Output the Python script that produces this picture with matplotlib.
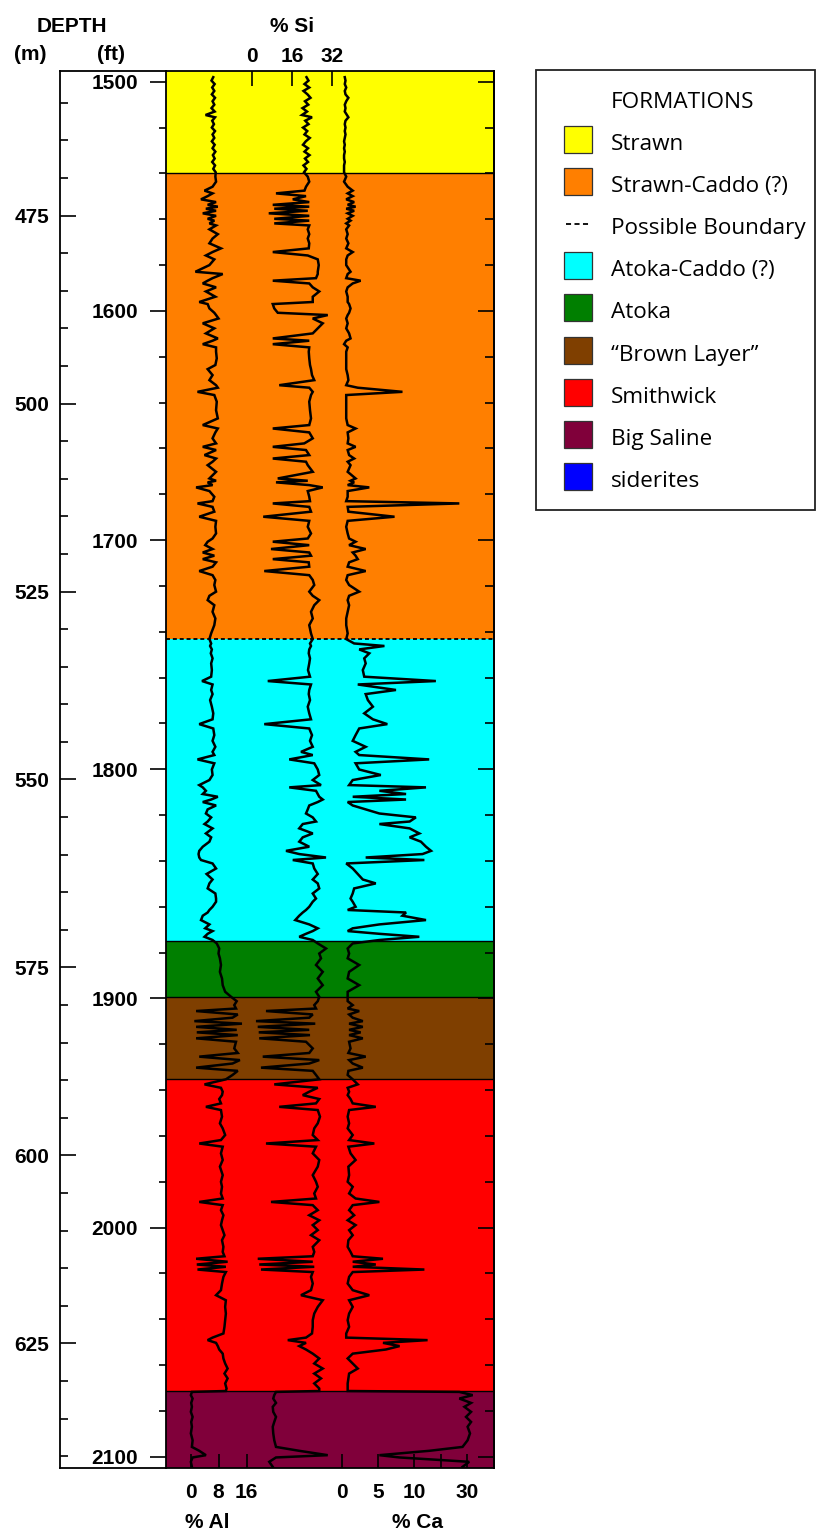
import numpy as np
import matplotlib
matplotlib.use("Agg")
import matplotlib.pyplot as plt
from matplotlib.patches import Rectangle
from matplotlib.ticker import MultipleLocator

plt.rcParams['font.family'] = ['Liberation Sans', 'DejaVu Sans']

# ---------------------------------------------------------------- data
# core-scan geochemistry: depth (ft) and element concentrations (%)
depth_ft = [
    1498.0, 1499.5, 1501.0, 1502.5, 1504.0, 1505.5, 1507.0, 1508.5, 1510.0, 1511.5,
    1513.0, 1514.5, 1515.5, 1517.0, 1518.5, 1520.0, 1521.5, 1523.0, 1524.5, 1526.0,
    1527.5, 1529.0, 1530.5, 1532.0, 1533.5, 1535.0, 1536.5, 1538.0, 1539.5,
    1541.4, 1543.6, 1545.8, 1547.5, 1548.7, 1549.9, 1551.3, 1552.5, 1553.7, 1554.5,
    1555.4, 1556.3, 1557.4, 1558.5, 1559.8, 1560.6, 1561.8, 1562.7, 1564.4, 1566.5,
    1568.4, 1570.5, 1572.7, 1574.3, 1575.8, 1577.5, 1580.0, 1582.9, 1583.9, 1585.7,
    1586.8, 1588.0, 1589.7, 1591.5, 1593.8, 1596.1, 1597.0, 1598.9, 1600.8, 1601.8,
    1603.3, 1605.4, 1607.6, 1609.8, 1612.0, 1613.0, 1614.5, 1615.9,
    1617.8, 1620.7, 1623.6, 1625.4, 1628.0, 1630.2, 1632.4, 1633.5, 1635.3, 1636.7,
    1639.6, 1643.3, 1646.9, 1649.8, 1651.3, 1653.0, 1655.6, 1657.8, 1659.3, 1660.7,
    1662.9, 1664.4, 1665.8, 1667.3, 1670.2, 1673.1, 1674.1, 1674.8, 1676.0, 1677.0,
    1678.6, 1681.1, 1683.0, 1684.0, 1685.5, 1687.6, 1689.8, 1691.6, 1694.2, 1697.1,
    1699.3, 1700.7, 1702.2, 1703.9, 1705.4, 1706.8, 1708.3, 1709.7, 1711.6, 1713.5,
    1715.3, 1717.4, 1719.6, 1722.5, 1724.3, 1726.2, 1728.4, 1731.3, 1734.2, 1737.1,
    1740.7, 1743.2, 1745.1, 1746.2, 1747.7, 1749.4, 1751.6, 1753.8, 1756.7, 1759.6,
    1761.5, 1763.0, 1765.4, 1767.2, 1769.8, 1772.7, 1775.6, 1778.2, 1780.3, 1782.2,
    1785.1, 1787.6, 1790.2, 1792.4, 1793.8, 1795.7, 1797.4, 1800.1, 1802.5, 1804.7,
    1806.9, 1807.9, 1809.4, 1810.8, 1812.0, 1813.2, 1814.3, 1815.8, 1817.5, 1819.3,
    1821.0, 1822.8, 1823.9, 1825.8, 1828.0, 1829.7, 1831.6, 1833.8, 1835.6, 1837.0,
    1838.5, 1839.6, 1841.1, 1843.3, 1845.7, 1848.1, 1849.8, 1852.0, 1854.2, 1856.4,
    1857.8, 1860.0, 1861.4, 1862.5, 1863.9, 1865.8, 1867.7, 1869.4, 1870.6, 1871.8,
    1873.1, 1874.5, 1876.0, 1878.2, 1880.4, 1882.5, 1885.4, 1888.4, 1891.3, 1894.2,
    1897.1, 1899.3, 1901.2, 1902.9, 1904.4, 1905.5, 1907.0, 1908.4, 1909.9, 1911.0,
    1912.4, 1913.7, 1914.8, 1916.0, 1917.4, 1918.9, 1921.8, 1923.8, 1925.4, 1926.9,
    1928.4, 1930.2, 1931.6, 1933.4, 1935.3, 1937.5, 1939.0, 1940.7, 1942.2, 1943.9,
    1945.8, 1947.3, 1948.7, 1951.6, 1954.5, 1956.7, 1959.6, 1961.8, 1963.3, 1964.7,
    1967.6, 1970.5, 1973.4, 1977.1, 1980.0,
    1982.2, 1985.1, 1987.3, 1988.8, 1990.2, 1992.4, 1994.6, 1996.8, 1998.9, 2001.1,
    2003.3, 2005.5, 2008.4, 2010.6, 2012.5, 2013.6, 2014.9, 2016.1, 2017.1, 2018.3,
    2019.4, 2021.5, 2024.4, 2027.3, 2029.5, 2031.7, 2034.6, 2037.5, 2040.4, 2043.3,
    2046.2, 2048.0, 2049.1, 2050.3, 2051.7, 2053.2, 2055.0, 2057.1, 2059.3, 2061.5,
    2063.7, 2065.8, 2068.0, 2070.2, 2071.3,
    2071.7, 2073.1, 2074.6, 2076.5, 2078.2, 2080.4, 2082.6, 2084.8, 2086.9, 2089.8,
    2092.8, 2095.7, 2097.4, 2099.3, 2100.3, 2102.2, 2104.4,
]

al_pct = [
    6.5, 6.0, 6.9, 6.2, 6.8, 6.1, 7.0, 6.3, 6.8, 6.0,
    6.9, 4.3, 7.0, 6.2, 6.7, 6.1, 7.0, 6.3, 6.8, 6.1,
    6.9, 6.3, 7.1, 6.4, 6.9, 6.2, 7.0, 6.5, 7.2,
    7.1, 7.3, 6.3, 4.0, 6.3, 4.9, 3.0, 7.3, 4.9, 7.8,
    4.4, 7.3, 3.5, 7.3, 4.9, 6.8, 5.4, 7.3, 5.4, 7.8,
    6.3, 5.4, 8.7, 6.3, 4.4, 6.8, 5.4, 1.4, 9.2, 6.3,
    4.9, 3.5, 7.3, 4.4, 7.1, 2.5, 4.9, 5.4, 6.8, 7.3,
    8.0, 3.5, 6.8, 4.4, 7.8, 6.3, 3.5, 7.3,
    7.3, 7.5, 7.1, 4.9, 6.3, 5.4, 7.3, 7.8, 2.0, 6.8,
    7.5, 7.3, 7.8, 3.5, 7.8, 7.1, 6.3, 7.3, 3.5, 7.3,
    4.0, 7.3, 6.3, 4.9, 7.3, 5.4, 7.3, 4.9, 6.3, 1.6,
    5.4, 6.8, 6.3, 2.0, 6.3, 6.8, 2.5, 7.3, 7.1, 7.3,
    6.3, 4.9, 4.2, 6.3, 3.5, 6.8, 3.5, 7.3, 6.3, 2.5,
    6.3, 7.1, 6.8, 7.3, 5.4, 4.9, 6.8, 6.3, 7.1, 6.8,
    5.9, 5.4, 5.9, 5.6, 6.1, 5.8, 6.3, 5.9, 6.1, 5.9,
    3.3, 6.3, 5.9, 6.3, 5.6, 6.1, 6.5, 6.3, 2.5, 6.5,
    6.8, 6.3, 7.1, 6.3, 6.8, 2.0, 6.8, 6.1, 6.3, 5.4,
    2.5, 3.5, 4.4, 3.5, 7.8, 5.9, 3.5, 7.3, 4.9, 4.4,
    5.9, 4.9, 4.0, 6.3, 4.4, 5.9, 5.4, 3.5, 2.5, 2.3,
    2.5, 3.0, 6.3, 7.3, 4.6, 6.3, 5.4, 4.9, 7.1, 7.3,
    7.3, 6.3, 5.4, 4.9, 3.5, 3.0, 5.4, 4.2, 6.3, 4.9,
    4.0, 6.3, 7.5, 8.2, 8.0, 8.4, 8.7, 8.4, 9.0, 9.2,
    9.9, 11.6, 13.2, 12.5, 13.0, 1.6, 13.5, 12.0, 1.1, 14.7,
    1.6, 13.2, 1.8, 13.5, 1.6, 13.0, 12.5, 13.5, 2.5, 14.1,
    12.0, 1.6, 13.5, 12.0, 10.1, 4.0, 8.7, 9.2, 9.0, 8.2,
    8.7, 4.4, 8.7, 9.0, 8.4, 9.2, 9.9, 8.7, 2.5, 9.2,
    8.7, 9.2, 8.4, 9.2, 8.7,
    9.0, 8.7, 9.2, 2.5, 9.2, 8.7, 9.4, 9.0, 8.7, 9.2,
    9.7, 9.0, 9.4, 9.2, 9.7, 1.6, 10.6, 1.8, 10.1, 2.0,
    10.1, 9.4, 9.0, 8.7, 7.3, 10.1, 9.9, 10.1, 9.9, 9.7,
    9.4, 6.3, 4.9, 7.3, 7.8, 8.2, 9.2, 9.4, 9.9, 10.6,
    9.7, 10.6, 9.9, 10.3, 10.1,
    0.4, 0.1, 0.6, 0.2, 0.4, 0.1, 0.6, 0.2, 0.4, 0.1,
    0.6, 0.4, 2.5, 4.4, 0.6, 0.1, 0.4,
]

si_pct = [
    21.8, 22.6, 21.0, 22.9, 20.6, 22.2, 23.4, 21.2, 22.5, 20.2,
    22.0, 20.0, 24.0, 21.3, 22.6, 20.4, 22.1, 21.0, 23.1, 21.5,
    20.4, 22.4, 21.0, 23.0, 21.2, 22.4, 20.6, 21.8, 20.8,
    22.3, 22.9, 21.6, 21.0, 9.6, 21.6, 16.3, 22.9, 8.3, 22.9,
    8.9, 22.3, 6.7, 22.9, 8.9, 22.9, 8.9, 22.9, 22.3, 22.9,
    22.3, 22.9, 22.7, 8.3, 22.3, 26.3, 26.7, 26.3, 26.3, 25.6,
    8.3, 22.9, 24.3, 26.9, 24.3, 24.3, 8.3, 8.9, 10.3, 30.3,
    24.3, 28.3, 26.3, 24.3, 8.3, 22.9, 8.3, 22.9,
    22.7, 22.9, 23.2, 23.6, 24.0, 24.9, 10.9, 22.9, 24.3, 23.6,
    22.9, 23.2, 23.6, 22.9, 8.3, 22.9, 24.3, 20.9, 8.3, 21.6,
    22.9, 8.3, 21.6, 22.3, 24.3, 10.3, 22.3, 9.6, 22.9, 28.3,
    22.3, 22.9, 23.2, 8.3, 22.9, 23.6, 4.5, 22.9, 22.3, 23.6,
    22.3, 8.3, 22.9, 7.6, 22.9, 23.6, 8.3, 22.7, 22.9, 4.9,
    22.9, 24.3, 24.9, 22.9, 24.3, 26.9, 24.9, 23.6, 24.3, 22.9,
    23.6, 24.3, 23.2, 23.6, 22.9, 22.7, 23.2, 22.9, 22.4, 23.2,
    6.3, 23.6, 22.9, 22.7, 23.2, 22.3, 22.9, 23.6, 4.9, 22.9,
    24.0, 23.2, 24.3, 19.6, 24.3, 14.9, 24.9, 26.3, 26.9, 24.3,
    27.6, 14.9, 25.6, 26.3, 26.9, 28.3, 26.3, 22.9, 22.3, 21.6,
    24.3, 25.6, 20.3, 18.9, 24.3, 20.3, 18.9, 22.9, 13.6, 18.9,
    29.6, 16.3, 24.3, 24.9, 26.3, 24.3, 26.3, 26.9, 24.3, 25.6,
    24.3, 22.9, 21.6, 20.3, 18.9, 17.3, 22.9, 26.3, 24.3, 21.6,
    18.9, 24.3, 26.3, 29.6, 26.9, 27.6, 25.6, 28.3, 26.3, 28.3,
    25.6, 26.9, 26.3, 24.9, 25.6, 5.6, 24.3, 22.9, 1.6, 25.3,
    2.3, 22.9, 2.7, 23.2, 2.9, 21.6, 24.3, 22.9, 4.3, 26.9,
    22.9, 3.6, 24.3, 25.6, 26.9, 8.9, 26.3, 22.9, 20.3, 26.9,
    25.6, 10.9, 26.3, 27.2, 26.3, 24.9, 24.3, 26.3, 5.6, 25.6,
    24.3, 26.9, 26.3, 24.3, 25.6,
    26.3, 24.9, 25.6, 7.6, 24.3, 26.3, 22.9, 26.9, 24.3, 26.3,
    23.6, 26.9, 24.3, 24.9, 24.3, 2.3, 24.3, 2.9, 24.9, 3.6,
    24.3, 23.6, 24.3, 23.6, 19.6, 28.3, 26.3, 24.9, 24.3, 24.3,
    24.0, 21.6, 14.3, 21.6, 18.9, 21.6, 24.3, 26.9, 24.9, 28.3,
    24.9, 27.6, 24.9, 26.9, 26.9,
    9.6, 8.9, 8.5, 9.6, 8.3, 8.5, 9.6, 8.9, 8.3, 8.5,
    8.9, 9.6, 18.9, 30.3, 9.6, 6.9, 8.3,
]

ca_pct = [
    0.4, 0.5, 0.4, 0.6, 0.4, 0.5, 0.9, 0.6, 0.4, 0.5,
    0.4, 0.7, 0.9, 0.5, 0.4, 0.5, 0.4, 0.5, 0.4, 0.3,
    0.4, 0.3, 0.4, 0.3, 0.3, 0.4, 0.3, 0.3, 0.3,
    0.6, 0.3, 0.8, 1.5, 0.8, 1.5, 0.6, 1.7, 0.8, 1.9,
    0.6, 1.7, 0.8, 1.5, 0.8, 1.2, 0.6, 1.0, 0.6, 0.8,
    0.6, 0.9, 0.6, 1.5, 0.8, 0.6, 0.6, 1.2, 0.8, 0.6,
    2.6, 1.5, 0.8, 0.6, 0.8, 0.8, 1.0, 1.2, 1.0, 0.8,
    0.6, 0.8, 0.6, 1.0, 1.2, 0.6, 0.3, 0.8,
    0.6, 0.6, 0.6, 0.6, 0.8, 0.9, 0.6, 2.2, 8.4, 0.6,
    0.6, 0.6, 0.6, 0.8, 1.9, 0.8, 0.9, 0.8, 1.9, 0.8,
    1.0, 1.7, 0.8, 1.2, 0.8, 1.9, 1.2, 1.7, 0.8, 3.8,
    0.8, 0.8, 0.6, 27.0, 0.8, 0.9, 7.3, 0.8, 0.6, 0.8,
    1.0, 1.9, 1.0, 3.3, 1.5, 1.9, 2.2, 1.0, 0.8, 3.3,
    0.8, 0.6, 1.0, 2.4, 1.0, 0.8, 1.0, 0.8, 0.6, 0.6,
    0.8, 0.6, 1.7, 5.9, 2.4, 3.8, 3.1, 3.3, 2.9, 3.1,
    18.2, 2.2, 7.5, 3.3, 3.6, 4.3, 3.1, 4.3, 6.3, 2.4,
    1.9, 1.5, 3.3, 1.9, 2.4, 15.7, 1.9, 2.4, 5.4, 1.5,
    1.0, 14.5, 5.2, 8.9, 1.5, 8.9, 0.8, 1.5, 3.3, 5.2,
    10.7, 9.4, 5.2, 9.4, 12.0, 9.4, 12.6, 14.5, 16.4, 13.2,
    3.3, 13.9, 0.6, 1.5, 2.2, 2.9, 4.7, 1.7, 1.5, 1.2,
    1.5, 1.9, 0.8, 8.9, 8.4, 14.5, 5.2, 1.5, 0.8, 5.2,
    12.0, 5.2, 1.5, 0.8, 1.0, 0.8, 2.4, 1.0, 0.8, 2.4,
    0.8, 0.8, 0.8, 1.5, 0.8, 2.4, 1.0, 1.5, 2.9, 1.0,
    2.9, 1.0, 2.6, 1.0, 2.9, 1.0, 1.2, 0.9, 3.3, 1.0,
    1.5, 2.9, 0.9, 0.8, 1.5, 2.2, 0.8, 1.0, 0.8, 1.2,
    1.5, 4.7, 1.0, 0.8, 1.0, 0.8, 1.5, 1.0, 4.5, 0.9,
    1.2, 1.9, 0.9, 1.0, 0.8,
    1.5, 1.0, 1.9, 5.2, 1.5, 1.0, 1.7, 0.8, 1.9, 1.0,
    1.5, 0.9, 0.8, 1.2, 1.5, 5.7, 1.5, 4.7, 1.5, 13.9,
    1.5, 1.0, 0.8, 1.5, 3.8, 1.0, 1.5, 1.0, 0.8, 1.0,
    0.6, 0.6, 15.1, 5.7, 8.0, 6.1, 1.5, 0.8, 1.5, 2.2,
    1.0, 0.9, 0.8, 0.8, 0.8,
    27.0, 32.0, 27.0, 31.4, 28.9, 31.4, 29.5, 31.4, 30.1, 31.0,
    30.1, 28.2, 15.7, 5.2, 8.0, 30.7, 28.2,
]

# formation intervals (ft)
formation_names = ["Strawn", "Strawn-Caddo (?)", "Atoka-Caddo (?)", "Atoka",
                   "\u201cBrown Layer\u201d", "Smithwick", "Big Saline"]
formation_tops = [1480.0, 1540.0, 1743.2, 1875.0, 1899.5, 1935.0, 2071.3]
formation_bases = [1540.0, 1743.2, 1875.0, 1899.5, 1935.0, 2071.3, 2120.0]
formation_colors = ["#FFFF00", "#FF7F00", "#00FFFF", "#007F00",
                    "#7F3F00", "#FF0000", "#80003A"]
possible_boundary_ft = 1743.2
siderite_color = "#0000FF"

al_ticks = [0, 8, 16]
si_ticks = [0, 16, 32]
ca_ticks = [0, 5, 10, 20, 30]
ca_tick_labels = ["0", "5", "10", "", "30"]

FT_TO_M = 0.3048

# ---------------------------------------------------------------- layout
W, H, DPI = 816, 1533, 100
fig = plt.figure(figsize=(W / DPI, H / DPI), dpi=DPI)
fig.patch.set_facecolor("white")


def px_box(x0, y0, x1, y1):
    return [x0 / W, 1 - y1 / H, (x1 - x0) / W, (y1 - y0) / H]


TOP_FT, BOTTOM_FT = 1495.3, 2104.9
NUM = dict(fontsize=15, fontweight="bold")
SPINE_W = 1.3

# metre scale box
ax_m = fig.add_axes(px_box(60, 71, 166, 1468))
ax_m.set_ylim(BOTTOM_FT * FT_TO_M, TOP_FT * FT_TO_M)
ax_m.set_xlim(0, 1)
ax_m.set_xticks([])
ax_m.spines["right"].set_visible(False)
for s in ax_m.spines.values():
    s.set_linewidth(SPINE_W)
m_major = list(range(475, 626, 25))
ax_m.set_yticks(m_major, [str(v) for v in m_major], **NUM)
ax_m.yaxis.set_minor_locator(MultipleLocator(5))
ax_m.tick_params(axis="y", which="major", direction="in", length=11.5, width=1.2, pad=8)
ax_m.tick_params(axis="y", which="minor", direction="in", length=6, width=1.2)
ax_m.patch.set_alpha(0)

# main log track
ax = fig.add_axes(px_box(166, 71, 494, 1468))
ax.set_ylim(BOTTOM_FT, TOP_FT)
ax.set_xlim(0, 1)
ax.set_xticks([])
for top, base, col in zip(formation_tops, formation_bases, formation_colors):
    ax.axhspan(top, base, color=col, lw=0, zorder=0)
for d in formation_tops[1:]:
    if d == possible_boundary_ft:
        ax.axhline(d, color="black", lw=1.3, ls=(0, (2.2, 1.6)), zorder=1)
    else:
        ax.axhline(d, color="black", lw=1.0, zorder=1)
for s in ax.spines.values():
    s.set_linewidth(SPINE_W)
ft_major = list(range(1500, 2101, 100))
ax.set_yticks(ft_major, [str(v) for v in ft_major], **NUM)
ax.yaxis.set_minor_locator(MultipleLocator(20))
ax.tick_params(axis="y", which="major", direction="out", length=11.5, width=1.2, pad=8.5)
ax.tick_params(axis="y", which="minor", direction="out", length=5, width=1.2)

ax_r = ax.secondary_yaxis("right")
ax_r.yaxis.set_major_locator(MultipleLocator(100))
ax_r.yaxis.set_minor_locator(MultipleLocator(20))
ax_r.tick_params(which="major", direction="in", length=11.5, width=1.2, labelright=False)
ax_r.tick_params(which="minor", direction="in", length=6.5, width=1.2)
ax_r.spines["right"].set_linewidth(SPINE_W)

# element curves, each on its own horizontal scale
CURVE = dict(color="black", lw=1.8, solid_joinstyle="miter", zorder=3)

ax_al = ax.twiny()
ax_si = ax.twiny()
ax_ca = ax.twiny()
for t in (ax_al, ax_si, ax_ca):
    for s in t.spines.values():
        s.set_visible(False)

ax_al.set_xlim(-7.0, 86.7)
ax_al.plot(al_pct, depth_ft, **CURVE)
ax_al.xaxis.set_ticks_position("bottom")
ax_al.xaxis.set_label_position("bottom")
ax_al.set_xticks(al_ticks, [str(v) for v in al_ticks], **NUM)
ax_al.tick_params(axis="x", direction="in", length=10, width=1.2, pad=10.5)
ax_al.set_xlabel("% Al", **NUM)
ax_al.xaxis.set_label_coords((207 - 166) / 328, (1468 - 1528) / 1397)
ax_al.xaxis.label.set_va("baseline")

ax_si.set_xlim(-34.4, 96.8)
ax_si.plot(si_pct, depth_ft, **CURVE)
ax_si.xaxis.set_ticks_position("top")
ax_si.set_xticks(si_ticks, [str(v) for v in si_ticks], **NUM)
ax_si.tick_params(axis="x", direction="in", length=11, width=1.2, pad=3.5)
ax_si.set_xlabel("% Si", **NUM)
ax_si.xaxis.set_label_coords((292 - 166) / 328, (1468 - 31.7) / 1397)
ax_si.xaxis.label.set_va("baseline")

CA_BREAK, CA_RATIO = 10.0, 0.37


def ca_forward(v):
    v = np.asarray(v, dtype=float)
    return np.where(v <= CA_BREAK, v, CA_BREAK + (v - CA_BREAK) * CA_RATIO)


def ca_inverse(u):
    u = np.asarray(u, dtype=float)
    return np.where(u <= CA_BREAK, u, CA_BREAK + (u - CA_BREAK) / CA_RATIO)


ax_ca.set_xscale("function", functions=(ca_forward, ca_inverse))
ax_ca.set_xlim(-24.4, 40.0)
ax_ca.plot(ca_pct, depth_ft, **CURVE)
ax_ca.xaxis.set_ticks_position("bottom")
ax_ca.xaxis.set_label_position("bottom")
ax_ca.set_xticks(ca_ticks, ca_tick_labels, **NUM)
ax_ca.xaxis.set_minor_locator(plt.NullLocator())
ax_ca.tick_params(axis="x", direction="in", length=10, width=1.2, pad=10.5)
ax_ca.set_xlabel("% Ca", **NUM)
ax_ca.xaxis.set_label_coords((417 - 166) / 328, (1468 - 1528) / 1397)
ax_ca.xaxis.label.set_va("baseline")

# headings and legend drawn in a figure-wide pixel frame
ov = fig.add_axes([0, 0, 1, 1])
ov.set_xlim(0, W)
ov.set_ylim(H, 0)
ov.axis("off")

ov.text(72, 31.7, "DEPTH", ha="center", va="baseline", **NUM)
ov.text(30, 60.5, "(m)", ha="center", va="baseline", **NUM)
ov.text(111, 60.5, "(ft)", ha="center", va="baseline", **NUM)

LEG_FONT = dict(family=["Open Sans", "DejaVu Sans"], fontsize=16.2)
ov.add_patch(Rectangle((536, 70), 279, 440, fill=False, ec="#222222", lw=1.3))
ov.text(611, 107.7, "FORMATIONS", va="baseline", **LEG_FONT)

legend_entries = ([(formation_names[0], formation_colors[0]),
                   (formation_names[1], formation_colors[1]),
                   ("Possible Boundary", None)]
                  + list(zip(formation_names[2:], formation_colors[2:]))
                  + [("siderites", siderite_color)])
for i, (name, col) in enumerate(legend_entries):
    base = 150 + 42.1 * i
    if col is None:
        ov.plot([566, 589], [base - 10.7] * 2, color="black", lw=1.3,
                ls=(0, (2.8, 1.9)))
    else:
        ov.add_patch(Rectangle((564, base - 24), 28, 27, fc=col,
                               ec="#333333", lw=0.9))
    ov.text(611, base, name, va="baseline", **LEG_FONT)

fig.savefig("out.png", dpi=DPI)
